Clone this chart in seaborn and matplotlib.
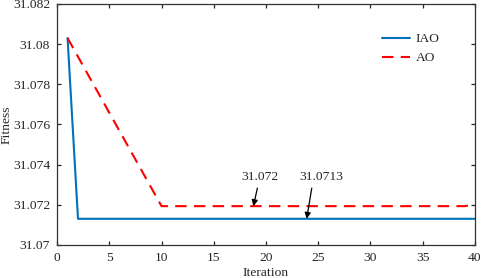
import seaborn as sns
import matplotlib.pyplot as plt
from matplotlib.ticker import FuncFormatter

# data
iao_iter = [1, 2, 40]
iao_fit = [31.0803, 31.0713, 31.0713]
ao_iter = [1, 10, 39, 40]
ao_fit = [31.0803, 31.07193, 31.07193, 31.07200]

sns.set_theme(style="ticks")
plt.rcParams['font.family'] = ['Liberation Serif', 'DejaVu Serif']
fs = 9.7

fig = plt.figure(figsize=(4.84, 2.78), dpi=100)
ax = fig.add_axes([0.118, 0.119, 0.863, 0.867])

sns.lineplot(x=iao_iter, y=iao_fit, ax=ax, color='#0072BD', lw=1.5, label='IAO')
sns.lineplot(x=ao_iter, y=ao_fit, ax=ax, color='#FF0000', lw=1.5, label='AO',
             linestyle=(0, (5.5, 3.5)))

ax.set_xlim(0, 40)
ax.set_ylim(31.07, 31.082)
ax.set_xticks(range(0, 41, 5))
ax.set_yticks([31.07 + 0.002 * i for i in range(7)])
ax.yaxis.set_major_formatter(FuncFormatter(lambda v, p: f"{v:.3f}".rstrip('0').rstrip('.')))
ax.tick_params(direction='in', length=3, width=0.9, labelsize=fs, colors='#262626',
               top=True, right=True, pad=5)
for s in ax.spines.values():
    s.set_color('#333333')
    s.set_linewidth(0.9)
    s.set_visible(True)
ax.set_xlabel('Iteration', fontsize=fs, labelpad=2)
ax.set_ylabel('Fitness', fontsize=fs)
ax.yaxis.set_label_coords(-0.106, 0.5)

ax.annotate('31.072', xy=(18.8, ao_fit[1]), xytext=(19.4, 31.07336),
            fontsize=fs, ha='center', va='center',
            arrowprops=dict(arrowstyle='-|>', color='black', lw=0.9, mutation_scale=9,
                            shrinkA=1, shrinkB=0))
ax.annotate('31.0713', xy=(23.9, iao_fit[1]), xytext=(25.3, 31.07336),
            fontsize=fs, ha='center', va='center',
            arrowprops=dict(arrowstyle='-|>', color='black', lw=0.9, mutation_scale=9,
                            shrinkA=1, shrinkB=0, relpos=(0.3, 0)))

leg = ax.legend(loc='upper right', bbox_to_anchor=(0.945, 0.93), frameon=False,
                fontsize=fs, handlelength=2.1, labelspacing=0.5, handletextpad=0.4)

fig.savefig('out.png', dpi=100)
